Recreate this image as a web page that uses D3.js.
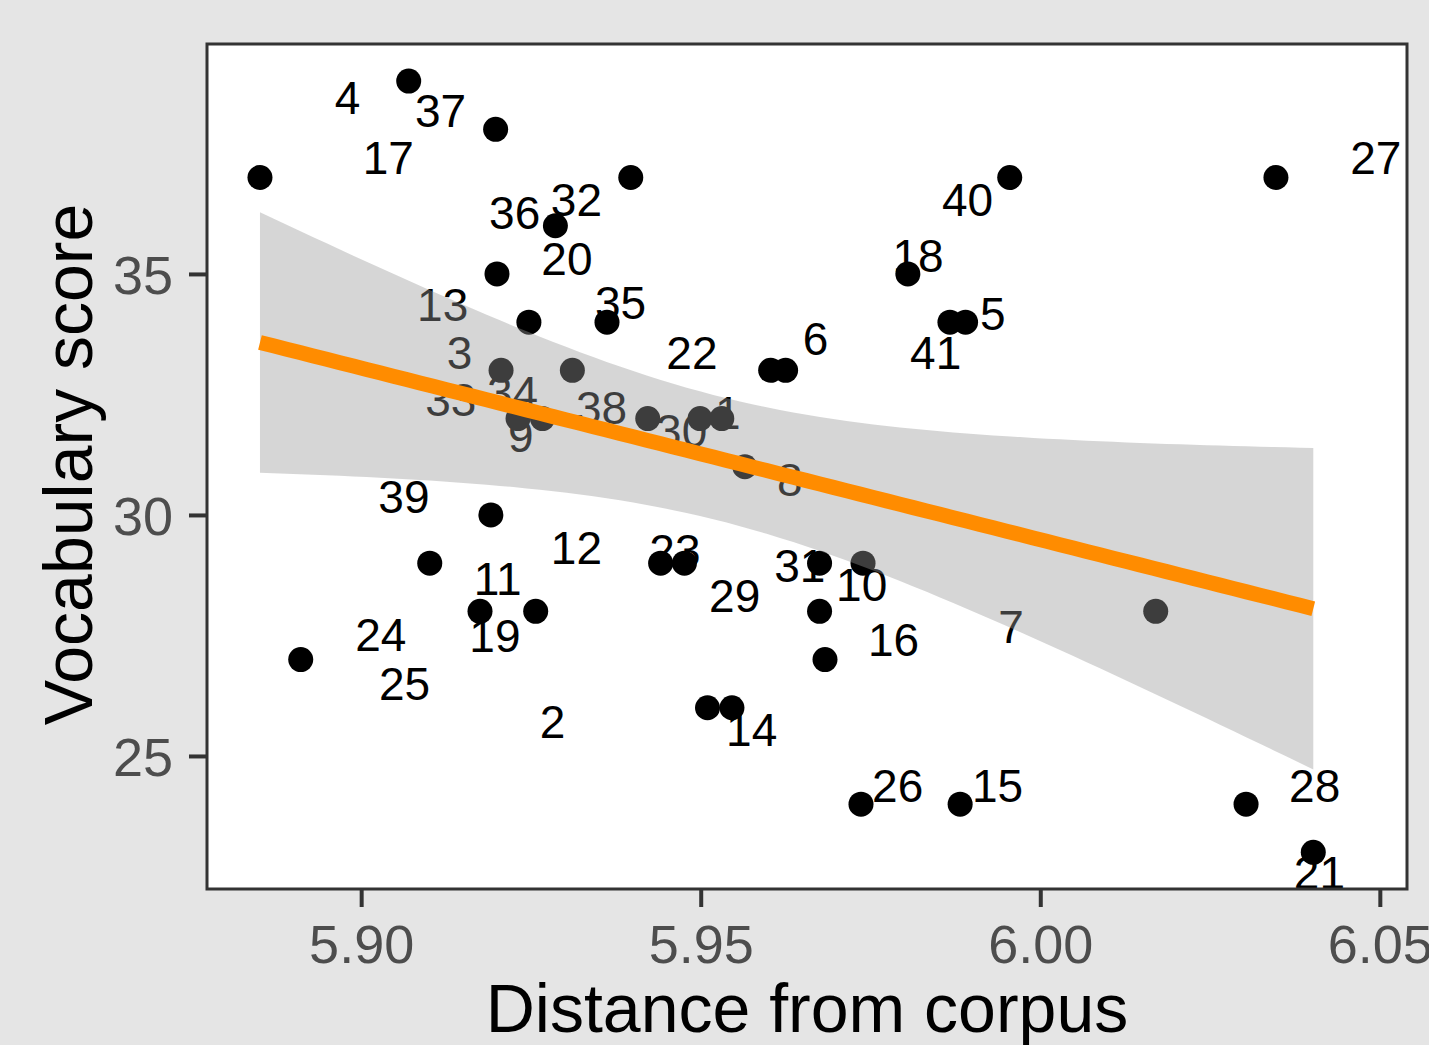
<!DOCTYPE html>
<html><head><meta charset="utf-8">
<script src="https://cdn.jsdelivr.net/npm/d3@7"></script>
<style>body{margin:0;background:#e5e5e5;} svg{display:block;}</style>
</head><body><svg id="c" width="1429" height="1045"></svg>
<script>
// ---- data ----
const ids      = [17, 4, 37, 32, 40, 27, 36, 13, 18, 20, 35, 41, 5, 3, 34, 22, 6, 33, 9, 38, 30, 1, 8, 39, 25, 11, 19, 24, 23, 29, 31, 10, 12, 7, 16, 2, 14, 26, 15, 28, 21];
const distance = [5.8851, 5.9070, 5.9198, 5.9397, 5.9955, 6.0347, 5.9286, 5.9200, 5.9805, 5.9247, 5.9362, 5.9867, 5.9890, 5.9206, 5.9311, 5.9603, 5.9625, 5.9231, 5.9267, 5.9422, 5.9499, 5.9531, 5.9565, 5.9191, 5.9101, 5.9175, 5.9257, 5.8911, 5.9441, 5.9476, 5.9675, 5.9739, 5.9675, 6.0170, 5.9683, 5.9510, 5.9546, 5.9736, 5.9882, 6.0303, 6.0402];
const vocab    = [37, 39, 38, 37, 37, 37, 36, 35, 35, 34, 34, 34, 34, 33, 33, 33, 33, 32, 32, 32, 32, 32, 31, 30, 29, 28, 28, 27, 29, 29, 29, 29, 28, 28, 27, 26, 26, 24, 24, 24, 23];
// repelled label positions (data units)
const labelDist  = [5.9040, 5.8980, 5.9117, 5.9317, 5.9893, 6.0494, 5.9226, 5.9120, 5.9820, 5.9303, 5.9382, 5.9846, 5.9930, 5.9145, 5.9223, 5.9487, 5.9669, 5.9132, 5.9235, 5.9354, 5.9472, 5.9540, 5.9631, 5.9063, 5.9064, 5.9201, 5.9197, 5.9029, 5.9462, 5.9550, 5.9646, 5.9737, 5.9317, 5.9957, 5.9784, 5.9282, 5.9575, 5.9790, 5.9937, 6.0404, 6.0411];
const labelVocab = [37.41, 38.67, 38.40, 36.54, 36.54, 37.41, 36.27, 34.36, 35.39, 35.33, 34.40, 33.38, 34.19, 33.38, 32.55, 33.38, 33.67, 32.39, 31.64, 32.22, 31.76, 32.12, 30.73, 30.39, 26.51, 28.69, 27.51, 27.53, 29.27, 28.32, 28.96, 28.55, 29.32, 27.68, 27.41, 25.71, 25.54, 24.38, 24.38, 24.38, 22.59];
const xTicks = [5.90, 5.95, 6.00, 6.05];
const yTicks = [25, 30, 35];
const xTickLabels = ["5.90", "5.95", "6.00", "6.05"];
const yTickLabels = ["25", "30", "35"];
const xTitle = "Distance from corpus";
const yTitle = "Vocabulary score";
const xDomain = [5.8773, 6.0540];
const yDomain = [22.24, 39.77];
const tCrit = 2.0227; // t(0.975, df = 39)

// ---- layout ----
const P = {left: 207, right: 1407, top: 44, bottom: 889};
const FONT = "Liberation Sans, Arial, sans-serif";
const svg = d3.select("#c");
svg.append("rect").attr("width", 1429).attr("height", 1045).attr("fill", "#e5e5e5");
const x = d3.scaleLinear().domain(xDomain).range([P.left, P.right]);
const y = d3.scaleLinear().domain(yDomain).range([P.bottom, P.top]);

svg.append("defs").append("clipPath").attr("id", "clip")
  .append("rect").attr("x", P.left).attr("y", P.top)
  .attr("width", P.right - P.left).attr("height", P.bottom - P.top);

svg.append("rect").attr("x", P.left).attr("y", P.top)
  .attr("width", P.right - P.left).attr("height", P.bottom - P.top).attr("fill", "#ffffff");

const g = svg.append("g").attr("clip-path", "url(#clip)");
const data = ids.map((id, i) => ({id, d: distance[i], v: vocab[i], ld: labelDist[i], lv: labelVocab[i]}));

// points
g.selectAll("circle.pt").data(data).enter().append("circle")
  .attr("cx", d => x(d.d)).attr("cy", d => y(d.v)).attr("r", 12.5).attr("fill", "#000");

// labels
g.selectAll("text.lab").data(data).enter().append("text")
  .attr("x", d => x(d.ld)).attr("y", d => y(d.lv)).attr("dy", "0.36em")
  .attr("text-anchor", "middle")
  .attr("font-family", FONT).attr("font-size", 46)
  .attr("fill", "#000").text(d => d.id);

// linear fit with 95% CI
const n = data.length;
const mx = d3.mean(distance), my = d3.mean(vocab);
let sxx = 0, sxy = 0;
data.forEach(p => { sxx += (p.d - mx) ** 2; sxy += (p.d - mx) * (p.v - my); });
const b1 = sxy / sxx, b0 = my - b1 * mx;
let sse = 0;
data.forEach(p => { sse += (p.v - (b0 + b1 * p.d)) ** 2; });
const s = Math.sqrt(sse / (n - 2));
const [xmin, xmax] = d3.extent(distance);
const grid = d3.range(80).map(i => xmin + (xmax - xmin) * i / 79);
const fit = grid.map(gx => {
  const f = b0 + b1 * gx;
  const se = s * Math.sqrt(1 / n + (gx - mx) ** 2 / sxx);
  return {x: gx, f, lo: f - tCrit * se, hi: f + tCrit * se};
});
g.append("path").datum(fit)
  .attr("d", d3.area().x(d => x(d.x)).y0(d => y(d.lo)).y1(d => y(d.hi)))
  .attr("fill", "#999999").attr("fill-opacity", 0.4);
g.append("path").datum(fit)
  .attr("d", d3.line().x(d => x(d.x)).y(d => y(d.f)))
  .attr("fill", "none").attr("stroke", "#ff8c00").attr("stroke-width", 15);

// panel border
svg.append("rect").attr("x", P.left).attr("y", P.top)
  .attr("width", P.right - P.left).attr("height", P.bottom - P.top)
  .attr("fill", "none").attr("stroke", "#333333").attr("stroke-width", 3);

// axes
const xAxis = svg.append("g").attr("transform", `translate(0,${P.bottom})`)
  .call(d3.axisBottom(x).tickValues(xTicks).tickFormat((d, i) => xTickLabels[i]).tickSize(18).tickPadding(18));
const yAxis = svg.append("g").attr("transform", `translate(${P.left},0)`)
  .call(d3.axisLeft(y).tickValues(yTicks).tickFormat((d, i) => yTickLabels[i]).tickSize(18).tickPadding(16));
[xAxis, yAxis].forEach(a => {
  a.select(".domain").remove();
  a.selectAll(".tick line").attr("stroke", "#333333").attr("stroke-width", 4);
  a.selectAll(".tick text").attr("fill", "#4d4d4d")
    .attr("font-family", FONT).attr("font-size", 54);
});
yAxis.selectAll(".tick text").attr("dy", "0.36em");

svg.append("text").attr("x", (P.left + P.right) / 2).attr("y", 1032)
  .attr("text-anchor", "middle").attr("font-family", FONT)
  .attr("font-size", 68).attr("fill", "#000").text(xTitle);
svg.append("text").attr("transform", `translate(92,${(P.top + P.bottom) / 2 - 2}) rotate(-90)`)
  .attr("text-anchor", "middle").attr("font-family", FONT)
  .attr("font-size", 68).attr("fill", "#000").text(yTitle);
</script></body></html>
